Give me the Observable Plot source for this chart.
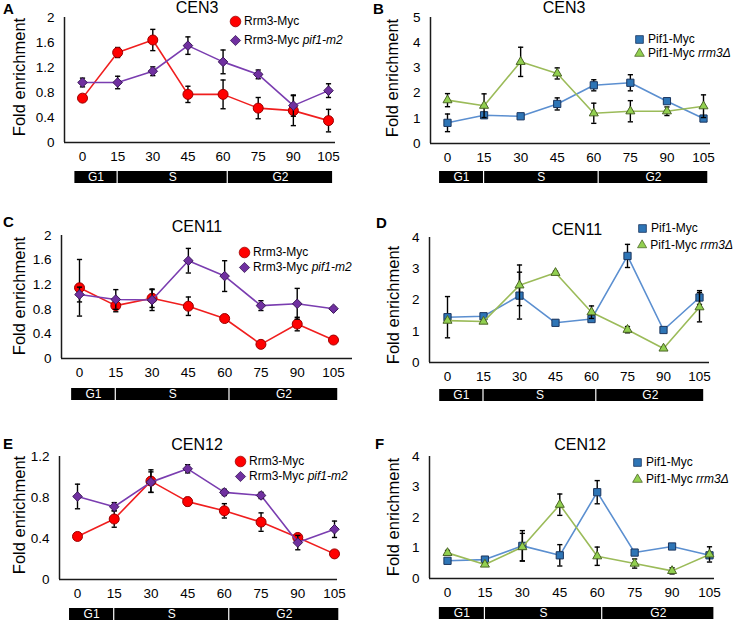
<!DOCTYPE html>
<html><head><meta charset="utf-8">
<script src="https://cdn.jsdelivr.net/npm/d3@7"></script>
<script src="https://cdn.jsdelivr.net/npm/@observablehq/plot@0.6"></script>
<style>
body{margin:0;background:#fff;}
#wrap{position:relative;width:733px;height:620px;font-family:"Liberation Sans",Arial,sans-serif;color:#000;overflow:hidden;}
.abs{position:absolute;white-space:nowrap;}
.title{font-size:16px;transform:translate(-50%,-50%);}
.letter{font-size:15px;font-weight:bold;transform:translateY(-50%);}
.ylab{font-size:16.5px;transform:translate(-50%,-50%) rotate(-90deg);}
.leg{font-size:12px;transform:translateY(-50%);display:flex;align-items:center;}
.leg svg{margin-right:2px;}
svg.plot{overflow:visible;}
</style>
</head><body><div id="wrap"></div>
<script>
// ---- data ----
const times = [0, 15, 30, 45, 60, 75, 90, 105];
const phaseNames = ["G1", "S", "G2"];
const phaseStart = [-3.5, 15, 62];
const phaseEnd = [15, 62, 107];

// CEN3
const cen3_rrm3 = [0.71, 1.44, 1.64, 0.77, 0.77, 0.55, 0.51, 0.35];
const cen3_rrm3_err = [0.03, 0.08, 0.17, 0.13, 0.23, 0.17, 0.24, 0.18];
const cen3_rrm3pif = [0.96, 0.96, 1.14, 1.55, 1.29, 1.09, 0.59, 0.83];
const cen3_rrm3pif_err = [0.07, 0.10, 0.07, 0.14, 0.19, 0.07, 0.17, 0.11];
const cen3_pif1 = [0.82, 1.12, 1.08, 1.57, 2.31, 2.41, 1.68, 0.99];
const cen3_pif1_err = [0.35, 0.05, 0.05, 0.24, 0.22, 0.32, 0.05, 0.05];
const cen3_pif1rrm3 = [1.72, 1.50, 3.24, 2.78, 1.20, 1.28, 1.28, 1.48];
const cen3_pif1rrm3_err = [0.26, 0.47, 0.58, 0.22, 0.40, 0.42, 0.17, 0.45];
// CEN11
const cen11_rrm3 = [1.15, 0.86, 0.98, 0.85, 0.65, 0.23, 0.56, 0.30];
const cen11_rrm3_err = [0.46, 0.10, 0.15, 0.15, 0.03, 0.03, 0.11, 0.03];
const cen11_rrm3pif = [1.04, 0.96, 0.95, 1.59, 1.34, 0.86, 0.89, 0.81];
const cen11_rrm3pif_err = [0.12, 0.16, 0.17, 0.20, 0.25, 0.08, 0.25, 0.03];
const cen11_pif1 = [1.45, 1.48, 2.14, 1.27, 1.39, 3.41, 1.04, 2.08];
const cen11_pif1_err = [0.66, 0.05, 0.75, 0.08, 0.05, 0.37, 0.05, 0.22];
const cen11_pif1rrm3 = [1.34, 1.31, 2.47, 2.87, 1.61, 1.05, 0.45, 1.77];
const cen11_pif1rrm3_err = [0.05, 0.05, 0.65, 0.05, 0.20, 0.10, 0.05, 0.47];
// CEN12
const cen12_rrm3 = [0.42, 0.59, 0.96, 0.76, 0.67, 0.56, 0.41, 0.25];
const cen12_rrm3_err = [0.03, 0.08, 0.11, 0.04, 0.07, 0.09, 0.03, 0.02];
const cen12_rrm3pif = [0.81, 0.71, 0.95, 1.08, 0.85, 0.82, 0.36, 0.49];
const cen12_rrm3pif_err = [0.12, 0.04, 0.10, 0.04, 0.03, 0.03, 0.07, 0.08];
const cen12_pif1 = [0.58, 0.62, 1.07, 0.76, 2.83, 0.85, 1.05, 0.76];
const cen12_pif1_err = [0.05, 0.05, 0.50, 0.35, 0.38, 0.05, 0.05, 0.05];
const cen12_pif1rrm3 = [0.84, 0.46, 1.03, 2.42, 0.73, 0.49, 0.25, 0.79];
const cen12_pif1rrm3_err = [0.08, 0.05, 0.45, 0.35, 0.30, 0.15, 0.10, 0.25];

const yTicksA = [0, 0.4, 0.8, 1.2, 1.6, 2];
const yTicksB = [0, 1, 2, 3, 4, 5];
const yTicksD = [0, 1, 2, 3, 4];
const yTicksE = [0, 0.4, 0.8, 1.2];

// ---- styles ----
const STY = {
  rrm3: {name: "Rrm3-Myc", it: "", symbol: "circle", r: 5, fill: "#ff0000", stroke: "#9c0000", line: "#f01e1e"},
  rrm3pif: {name: "Rrm3-Myc ", it: "pif1-m2", symbol: "diamond2", r: 4.3, fill: "#7030a0", stroke: "#3a1758", line: "#7a3db0"},
  pif1: {name: "Pif1-Myc", it: "", symbol: "square2", r: 4.6, fill: "#2e75b6", stroke: "#1b355e", line: "#5b8fd0"},
  pif1rrm3: {name: "Pif1-Myc ", it: "rrm3Δ", symbol: "triangle2", r: 4.3, fill: "#92d050", stroke: "#4b6526", line: "#9bbb59"}
};

// ---- layout ----
const panels = [
  {letter: "A", title: "CEN3", left: 0, top: 0, L: 64, R: 335, p0: 82, p105: 328, yTop: 17, y0: 142, ymax: 2, ticks: yTicksA, bar: 171,
   s: [["rrm3", cen3_rrm3, cen3_rrm3_err], ["rrm3pif", cen3_rrm3pif, cen3_rrm3pif_err]],
   lx: 235, ly: [21, 40], lt: [8, 78], ylx: 19, yly: 77, tx: 197, ty: 8, lty: 8, ltx: 3},
  {letter: "B", title: "CEN3", left: 367, top: 0, L: 430, R: 710, p0: 447, p105: 703, yTop: 17, y0: 143, ymax: 5, ticks: yTicksB, bar: 171,
   s: [["pif1", cen3_pif1, cen3_pif1_err], ["pif1rrm3", cen3_pif1rrm3, cen3_pif1rrm3_err]],
   lx: 639, ly: [39, 53], ylx: 392, yly: 78, tx: 564, ty: 8, lty: 8, ltx: 373},
  {letter: "C", title: "CEN11", left: 0, top: 195, L: 61, R: 352, p0: 79, p105: 333, yTop: 235, y0: 358, ymax: 2, ticks: yTicksA, bar: 388,
   s: [["rrm3", cen11_rrm3, cen11_rrm3_err], ["rrm3pif", cen11_rrm3pif, cen11_rrm3pif_err]],
   lx: 244, ly: [252, 267], ylx: 19, yly: 296, tx: 197, ty: 227, lty: 221, ltx: 3},
  {letter: "D", title: "CEN11", left: 367, top: 195, L: 429, R: 709, p0: 447, p105: 699, yTop: 237, y0: 362, ymax: 4, ticks: yTicksD, bar: 389,
   s: [["pif1", cen11_pif1, cen11_pif1_err], ["pif1rrm3", cen11_pif1rrm3, cen11_pif1rrm3_err]],
   lx: 642, ly: [228, 245], ylx: 393, yly: 305, tx: 577, ty: 230, lty: 222, ltx: 376},
  {letter: "E", title: "CEN12", left: 0, top: 420, L: 59, R: 337, p0: 77, p105: 334, yTop: 456, y0: 579, ymax: 1.2, ticks: yTicksE, bar: 608,
   s: [["rrm3", cen12_rrm3, cen12_rrm3_err], ["rrm3pif", cen12_rrm3pif, cen12_rrm3pif_err]],
   lx: 240, ly: [461, 476], ylx: 19, yly: 515, tx: 197, ty: 445, lty: 443, ltx: 3},
  {letter: "F", title: "CEN12", left: 367, top: 420, L: 429, R: 714, p0: 447, p105: 709, yTop: 456, y0: 578, ymax: 4, ticks: yTicksD, bar: 607,
   s: [["pif1", cen12_pif1, cen12_pif1_err], ["pif1rrm3", cen12_pif1rrm3, cen12_pif1rrm3_err]],
   lx: 637, ly: [462, 479], ylx: 393, yly: 517, tx: 580, ty: 445, lty: 443, ltx: 375}
];

const capSymbol = {draw(ctx) { ctx.moveTo(-2.6, 0); ctx.lineTo(2.6, 0); }};
const fmt = d => String(+d.toFixed(1));
const wrap = document.getElementById("wrap");
const W = 366;

function place(el, x, y) { el.style.left = x + "px"; el.style.top = y + "px"; wrap.appendChild(el); return el; }
function div(cls, html) { const d = document.createElement("div"); d.className = "abs " + cls; d.innerHTML = html; return d; }

function markerSvg(key) {
  const st = STY[key];
  const p = Plot.plot({width: 14, height: 14, margin: 0, x: {domain: [0, 1], axis: null}, y: {domain: [0, 1], axis: null},
    style: {background: "transparent"},
    marks: [Plot.dot([0.5], {x: () => 0.5, y: () => 0.5, symbol: st.symbol, r: st.r + 0.3, fill: st.fill, stroke: st.stroke, strokeWidth: 0.8})]});
  return p;
}

for (const p of panels) {
  const k = (p.p105 - p.p0) / 105;
  const xd = [(p.L - p.p0) / k, (p.R - p.p0) / k];
  const mL = p.L - p.left, mR = p.left + W - p.R;
  const height = p.y0 - p.top + 28;
  const marks = [
    Plot.ruleY([0], {stroke: "#1a1a1a", strokeWidth: 1.5}),
    Plot.ruleX([xd[0]], {y1: 0, y2: p.ymax, stroke: "#1a1a1a", strokeWidth: 1.5})
  ];
  for (const [key, vals, errs] of p.s) {
    const st = STY[key];
    const data = times.map((t, i) => ({t, v: vals[i], e: errs[i]}));
    marks.push(
      Plot.line(data, {x: "t", y: "v", stroke: st.line, strokeWidth: 1.6}),
      Plot.ruleX(data, {x: "t", y1: d => d.v - d.e, y2: d => d.v + d.e, stroke: "#000", strokeWidth: 1.4}),
      Plot.dot(data, {x: "t", y: d => d.v + d.e, symbol: capSymbol, stroke: "#000", fill: "none", strokeWidth: 1.4}),
      Plot.dot(data, {x: "t", y: d => d.v - d.e, symbol: capSymbol, stroke: "#000", fill: "none", strokeWidth: 1.4}),
      Plot.dot(data, {x: "t", y: "v", symbol: st.symbol, r: st.r, fill: st.fill, stroke: st.stroke, strokeWidth: 1})
    );
  }
  const chart = Plot.plot({
    width: W, height,
    marginLeft: mL, marginRight: mR, marginTop: p.yTop - p.top, marginBottom: height - (p.y0 - p.top),
    style: {fontSize: "13.5px", fontFamily: "Liberation Sans, Arial, sans-serif", background: "transparent", color: "#000"},
    x: {domain: xd, ticks: times, tickSize: 0, tickPadding: 9, tickFormat: d => String(d), label: null},
    y: {domain: [0, p.ymax], ticks: p.ticks, tickSize: 0, tickPadding: 10, tickFormat: fmt, label: null},
    marks
  });
  place(chart, p.left, p.top).style.position = "absolute";

  const phases = phaseNames.map((n, i) => ({n, s: phaseStart[i], e: phaseEnd[i]}));
  const bar = Plot.plot({
    width: W, height: 12, marginLeft: mL, marginRight: mR, marginTop: 0, marginBottom: 0,
    style: {fontSize: "12px", fontFamily: "Liberation Sans, Arial, sans-serif", background: "transparent"},
    x: {domain: xd, axis: null}, y: {domain: [0, 1], axis: null},
    marks: [
      Plot.rect(phases, {x1: "s", x2: "e", y1: () => 0, y2: () => 1, fill: "#000", insetLeft: 0.6, insetRight: 0.6}),
      Plot.text(phases, {x: d => (d.s + d.e) / 2, y: () => 0.5, text: "n", fill: "#fff", fontSize: 12})
    ]
  });
  place(bar, p.left, p.bar).style.position = "absolute";

  place(div("title", p.title), p.tx, p.ty);
  place(div("letter", p.letter), p.ltx, p.lty);
  place(div("ylab", "Fold enrichment"), p.ylx, p.yly);
  p.s.forEach(([key], i) => {
    const st = STY[key];
    const row = div("leg", "");
    row.appendChild(markerSvg(key));
    const sp = document.createElement("span");
    sp.innerHTML = st.name + (st.it ? "<i>" + st.it + "</i>" : "");
    row.appendChild(sp);
    place(row, p.lx - 7, p.ly[i]);
  });
}
</script></body></html>
